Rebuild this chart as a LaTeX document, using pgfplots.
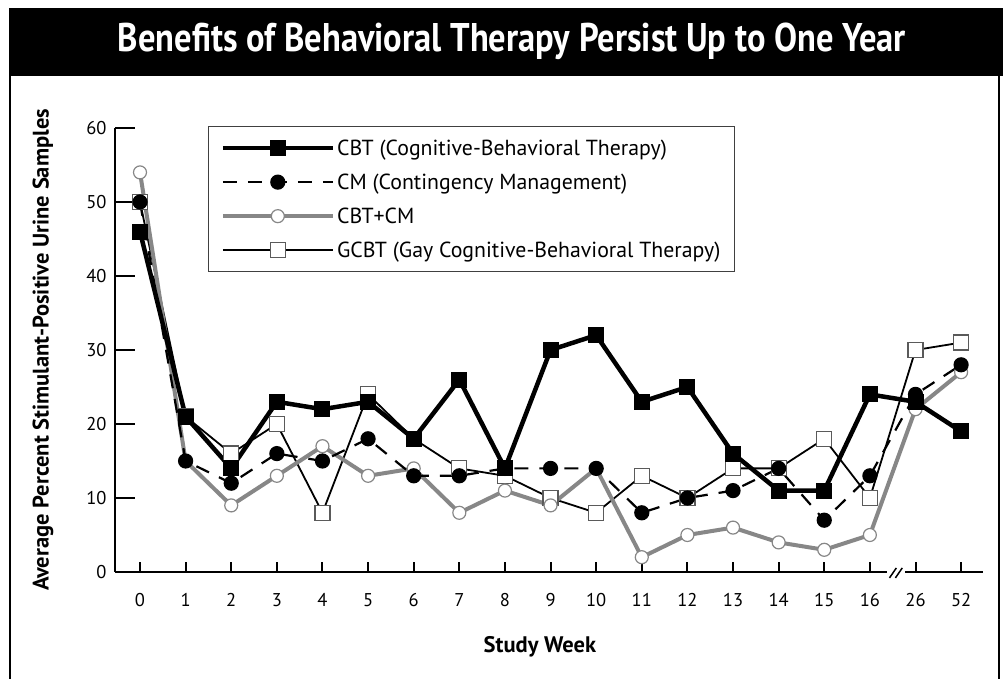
\documentclass[border=0pt]{standalone}
\usepackage{pgfplots}
\pgfplotsset{compat=1.18}
\usepackage{pgfplotstable}
\usepackage{graphicx}
\usepackage{fontspec}
\setmainfont{PT Sans}
\definecolor{cbtcm}{RGB}{135,135,135}
\definecolor{sqedge}{RGB}{90,90,90}

\pgfplotstableread{
wk CBT CM CBTCM GCBT
0 46 50 54 50
1 21 15 15 21
2 14 12 9 16
3 23 16 13 20
4 22 15 17 8
5 23 18 13 24
6 18 13 14 18
7 26 13 8 14
8 14 14 11 13
9 30 14 9 10
10 32 14 14 8
11 23 8 2 13
12 25 10 5 10
13 16 11 6 14
14 11 14 4 14
15 11 7 3 18
16 24 13 5 10
17 23 24 22 30
18 19 28 27 31
}\datatable

\begin{document}
\begin{tikzpicture}[x=1pt,y=1pt]
\useasboundingbox (0,0) rectangle (1003,679);
\fill[black] (9,603) rectangle (1003,671);
\node[anchor=base, text=white, inner sep=0pt] at (512,627) {\resizebox{788pt}{\height}{\fontsize{40}{48}\selectfont\bfseries Benefits of Behavioral Therapy Persist Up to One Year}};
\draw[line width=2pt] (10,0) -- (10,603);
\draw[line width=2pt] (999,0) -- (999,603);
\begin{axis}[
  at={(115pt,107pt)}, anchor=south west, scale only axis,
  width=868pt, height=444pt,
  xmin=-0.548, xmax=18.48, ymin=0, ymax=60,
  axis x line=bottom, axis y line=left,
  axis line style={-, line width=2pt, black},
  clip=false,
  xtick={0,...,18},
  xticklabels={0,1,2,3,4,5,6,7,8,9,10,11,12,13,14,15,16,26,52},
  ytick={0,10,...,60},
  tick align=inside,
  major tick length=10pt,
  xtick style={line width=2pt, black},
  ytick style={draw=none},
  /pgf/number format/assume math mode=true,
  xticklabel style={font=\fontsize{18.5}{21}\selectfont, yshift=-18pt},
  yticklabel style={font=\fontsize{18.5}{21}\selectfont, xshift=-5pt},
  xlabel={Study Week},
  ylabel={Average Percent Stimulant-Positive Urine Samples},
  xlabel style={font=\bfseries\fontsize{22.5}{26}\selectfont, at={(axis description cs:0.4896,-0.169)}, anchor=center},
  ylabel style={font=\bfseries\fontsize{22.5}{26}\selectfont, at={(axis description cs:-0.083,0.5)}, anchor=center},
  legend style={at={(axis description cs:0.1071,1.0045)}, anchor=north west,
    draw=black!75, line width=1.2pt, inner xsep=12pt, inner ysep=11pt,
    font=\fontsize{21.8}{26}\selectfont, row sep=13pt, cells={anchor=west}},
  legend image code/.code={\draw[mark repeat=2,mark phase=2,#1] plot coordinates {(0pt,0pt) (55pt,0pt) (110pt,0pt)};},
  reverse legend,
]
\addplot[line width=1.8pt, black, mark=square*, mark size=7.5pt, mark options={solid, fill=white, draw=sqedge, line width=1.2pt}] table[x=wk,y=GCBT]{\datatable};
\addlegendentry{GCBT (Gay Cognitive-Behavioral Therapy)}
\addplot[line width=4pt, cbtcm, mark=*, mark size=6.5pt, mark options={solid, fill=white, draw=cbtcm, line width=1.2pt}] table[x=wk,y=CBTCM]{\datatable};
\addlegendentry{CBT+CM}
\addplot[line width=2.2pt, black, dash pattern=on 14pt off 11pt, mark=*, mark size=6.5pt, mark options={solid, fill=black}] table[x=wk,y=CM]{\datatable};
\addlegendentry{CM (Contingency Management)}
\addplot[line width=4.5pt, black, mark=square*, mark size=7.5pt, mark options={solid, fill=black, line width=1pt}] table[x=wk,y=CBT]{\datatable};
\addlegendentry{CBT (Cognitive-Behavioral Therapy)}
\pgfplotsinvokeforeach{10,20,30,40,50,60}{
  \draw[line width=2pt] (axis cs:-0.548,#1) -- ++(20pt,0pt);
}
\fill[white] (axis cs:16.38,-0.6) rectangle (axis cs:16.78,0.6);
\draw[line width=1.5pt] (axis cs:16.43,-0.8) -- (axis cs:16.58,0.55);
\draw[line width=1.5pt] (axis cs:16.56,-0.8) -- (axis cs:16.71,0.55);
\end{axis}
\end{tikzpicture}
\end{document}
